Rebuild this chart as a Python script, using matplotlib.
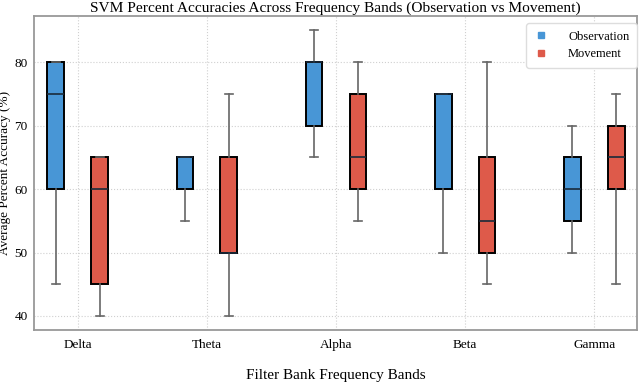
import matplotlib
matplotlib.use("Agg")
import matplotlib.pyplot as plt
from matplotlib.lines import Line2D

plt.rcParams['font.family'] = ['Liberation Serif', 'DejaVu Serif']

bands = ["Delta", "Theta", "Alpha", "Beta", "Gamma"]
# Observation: min, Q1, median, Q3, max
obs_min = [45, 55, 65, 50, 50]
obs_q1 = [60, 60, 70, 60, 55]
obs_med = [75, 65, 80, 75, 60]
obs_q3 = [80, 65, 80, 75, 65]
obs_max = [80, 65, 85, 75, 70]
# Movement
mov_min = [40, 40, 55, 45, 45]
mov_q1 = [45, 50, 60, 50, 60]
mov_med = [60, 50, 65, 55, 65]
mov_q3 = [65, 65, 75, 65, 70]
mov_max = [65, 75, 80, 80, 75]

obs_color = "#4896d6"
mov_color = "#de5a4a"

def stats(mn, q1, med, q3, mx):
    return [dict(whislo=a, q1=b, med=c, q3=d, whishi=e, fliers=[])
            for a, b, c, d, e in zip(mn, q1, med, q3, mx)]

fig, ax = plt.subplots(figsize=(6.4, 3.84), dpi=100)
fig.subplots_adjust(left=0.053, right=0.995, top=0.958, bottom=0.14)

x = list(range(len(bands)))
off = 0.17
w = 0.13
common = dict(widths=w, patch_artist=True, showfliers=False,
              boxprops=dict(edgecolor="black", linewidth=1.4),
              medianprops=dict(color="#1a2a3a", linewidth=1.2),
              whiskerprops=dict(color="#666666", linewidth=1.2),
              capprops=dict(color="#666666", linewidth=1.2),
              capwidths=0.06, manage_ticks=False)
b1 = ax.bxp(stats(obs_min, obs_q1, obs_med, obs_q3, obs_max),
            positions=[i - off for i in x], **common)
b2 = ax.bxp(stats(mov_min, mov_q1, mov_med, mov_q3, mov_max),
            positions=[i + off for i in x], **common)
for p in b1["boxes"]:
    p.set_facecolor(obs_color)
for p in b2["boxes"]:
    p.set_facecolor(mov_color)

ax.set_xticks(x)
ax.set_xticklabels(bands, fontsize=9.5)
ax.set_xlim(-0.34, 4.33)
ax.set_ylim(37.75, 87.25)
ax.set_yticks([40, 50, 60, 70, 80])
ax.tick_params(axis='y', labelsize=9.5, length=0, pad=4.5)
ax.tick_params(axis='x', length=0, pad=6)
ax.grid(True, linestyle=":", color="#d0d0d0", linewidth=0.8)
ax.set_axisbelow(True)
for s in ax.spines.values():
    s.set_color("#999999")
    s.set_linewidth(1.3)

ax.set_title("SVM Percent Accuracies Across Frequency Bands (Observation vs Movement)",
             fontsize=11.1, pad=3)
ax.set_xlabel("Filter Bank Frequency Bands", fontsize=11, labelpad=13)
ax.set_ylabel("Average Percent Accuracy (%)", fontsize=9.5)
ax.yaxis.set_label_coords(-0.038, 0.5)

handles = [Line2D([], [], marker="s", linestyle="", markersize=5, color=obs_color),
           Line2D([], [], marker="s", linestyle="", markersize=5, color=mov_color)]
ax.legend(handles, ["Observation", "Movement"], loc="upper right", fontsize=9,
          bbox_to_anchor=(1.0, 0.978), borderaxespad=0, handlelength=1.2,
          handletextpad=1.55, borderpad=0.6, labelspacing=0.45, framealpha=1,
          edgecolor="#dddddd", fancybox=True)

fig.savefig("out.png", dpi=100)
